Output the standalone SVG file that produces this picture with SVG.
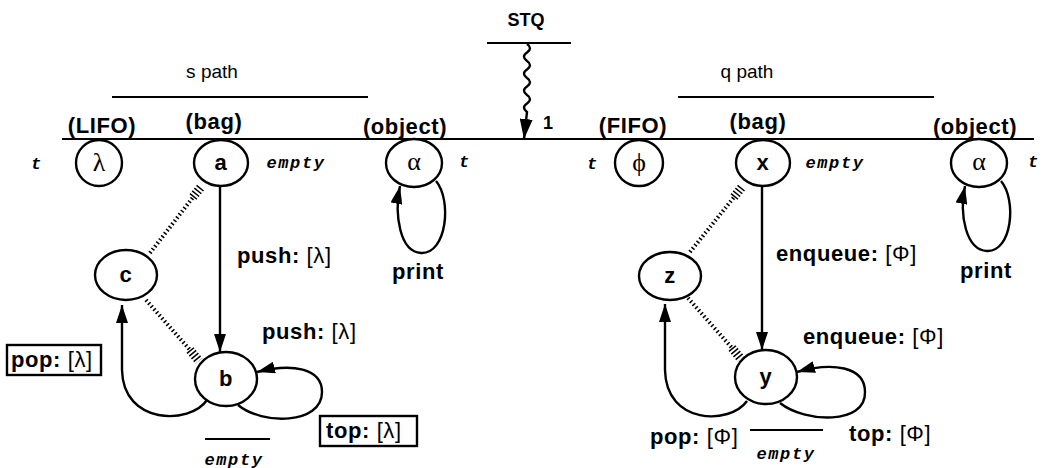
<svg xmlns="http://www.w3.org/2000/svg" width="1042" height="468" viewBox="0 0 1042 468">
<defs>
<style>
.lbl{font-family:"Liberation Sans",Arial,sans-serif;font-weight:bold;font-size:22px;letter-spacing:0.6px;fill:#000}
.sm{font-family:"Liberation Sans",Arial,sans-serif;font-weight:bold;font-size:18px;fill:#000}
.plain{font-family:"Liberation Sans",Arial,sans-serif;font-size:19px;fill:#000}
.mono{font-family:"Liberation Mono","Courier New",monospace;font-weight:bold;font-style:italic;font-size:17px;letter-spacing:1.6px;fill:#000}
.greek{font-family:"Liberation Serif","Times New Roman",serif;font-size:26px;fill:#000}
.node{fill:#fff;stroke:#000;stroke-width:2.4}
.ln{stroke:#000;stroke-width:2;fill:none}
.edge{stroke:#000;stroke-width:2.4;fill:none}
.hatch{stroke:#000;stroke-width:4;stroke-dasharray:1.5 2.5;fill:none}
.hatch2{stroke:#000;stroke-width:9;stroke-dasharray:1.5 2;fill:none}
.box{fill:#fff;stroke:#000;stroke-width:2.4}
.n{font-weight:normal}
</style>
<marker id="ahL" viewBox="0 0 18 12" refX="18" refY="6" markerWidth="18" markerHeight="12" markerUnits="userSpaceOnUse" orient="auto">
<path d="M0,0 L18,6 L0,12 z" fill="#000"/>
</marker>
<marker id="ahW" viewBox="0 0 20 13" refX="20" refY="6.5" markerWidth="20" markerHeight="13" markerUnits="userSpaceOnUse" orient="auto">
<path d="M0,0 L20,6.5 L0,13 z" fill="#000"/>
</marker>
</defs>
<g id="header">
<text class="plain" x="212" y="78" text-anchor="middle">s path</text>
<line class="ln" x1="112" y1="97" x2="368" y2="97"/>
<text class="sm" x="526" y="26" text-anchor="middle">STQ</text>
<line class="ln" x1="487" y1="43" x2="571" y2="43"/>
<text class="plain" x="747" y="78" text-anchor="middle">q path</text>
<line class="ln" x1="678" y1="97" x2="934" y2="97"/>
<line class="ln" x1="62" y1="139" x2="1034" y2="139"/>
<text class="lbl" x="102" y="133" text-anchor="middle">(LIFO)</text>
<text class="lbl" x="214" y="129" text-anchor="middle">(bag)</text>
<text class="lbl" x="405" y="134" text-anchor="middle">(object)</text>
<text class="lbl" x="633" y="133" text-anchor="middle">(FIFO)</text>
<text class="lbl" x="758" y="129" text-anchor="middle">(bag)</text>
<text class="lbl" x="975" y="134" text-anchor="middle">(object)</text>
<text class="sm" x="548" y="129" text-anchor="middle">1</text>
</g>
<g id="connectors">
<path class="edge" d="M527,44 q6,4 0,8.5 q-6,4 0,8.5 q6,4 0,8.5 q-6,4 0,8.5 q6,4 0,8.5 q-6,4 0,8.5 q6,4 0,8.5 q-6,4 0,8.5 L524,139" marker-end="url(#ahW)"/>
<line class="edge" x1="220" y1="186" x2="220" y2="352" marker-end="url(#ahL)"/>
<line class="edge" x1="762" y1="186" x2="762" y2="350" marker-end="url(#ahL)"/>
<path class="edge" d="M238,405 C262,425 322,425 322,392 C322,368 292,363 257,372" marker-end="url(#ahL)"/>
<path class="edge" d="M207,400 C190,425 123,425 122,370 L122,305" marker-end="url(#ahL)"/>
<path class="edge" d="M780,403 C805,423 866,425 865,392 C865,366 832,362 797,372" marker-end="url(#ahL)"/>
<path class="edge" d="M747,401 C730,425 666,425 665,370 L665,304" marker-end="url(#ahL)"/>
<path class="edge" d="M436,181 C452,200 447,254 421,253 C400,252 394,215 400,186" marker-end="url(#ahL)"/>
<path class="edge" d="M1001,181 C1017,200 1012,252 987,251 C966,250 959,215 965,186" marker-end="url(#ahL)"/>
<line class="hatch" x1="150" y1="253" x2="194" y2="196"/>
<line class="hatch2" x1="193" y1="197" x2="201" y2="187"/>
<line class="hatch" x1="146" y1="300" x2="191" y2="351"/>
<line class="hatch2" x1="190" y1="350" x2="199" y2="361"/>
<line class="hatch" x1="690" y1="252" x2="735" y2="196"/>
<line class="hatch2" x1="734" y1="197" x2="742" y2="187"/>
<line class="hatch" x1="688" y1="298" x2="733" y2="349"/>
<line class="hatch2" x1="732" y1="348" x2="741" y2="359"/>
</g>
<g id="node-lambda">
<ellipse class="node" cx="99" cy="163" rx="23" ry="23"/>
<text class="greek" x="99" y="171" text-anchor="middle">λ</text>
<text class="mono" x="37" y="169" text-anchor="middle">t</text>
</g>
<g id="node-a">
<ellipse class="node" cx="221" cy="163" rx="27" ry="23"/>
<text class="lbl" x="221" y="170" text-anchor="middle">a</text>
<text class="mono" x="296" y="168" text-anchor="middle">empty</text>
</g>
<g id="node-alpha1">
<ellipse class="node" cx="414" cy="163" rx="28" ry="24"/>
<text class="greek" x="414" y="170" text-anchor="middle">α</text>
<text class="mono" x="465" y="167" text-anchor="middle">t</text>
<text class="lbl" x="418" y="279" text-anchor="middle">print</text>
</g>
<g id="node-phi">
<ellipse class="node" cx="639" cy="163" rx="24" ry="23"/>
<text class="greek" x="639" y="171" text-anchor="middle">ϕ</text>
<text class="mono" x="593" y="169" text-anchor="middle">t</text>
</g>
<g id="node-x">
<ellipse class="node" cx="763" cy="163" rx="27" ry="23"/>
<text class="lbl" x="763" y="170" text-anchor="middle">x</text>
<text class="mono" x="835" y="168" text-anchor="middle">empty</text>
</g>
<g id="node-alpha2">
<ellipse class="node" cx="979" cy="163" rx="28" ry="24"/>
<text class="greek" x="979" y="170" text-anchor="middle">α</text>
<text class="mono" x="1034" y="167" text-anchor="middle">t</text>
<text class="lbl" x="986" y="278" text-anchor="middle">print</text>
</g>
<g id="node-c">
<ellipse class="node" cx="126" cy="275" rx="31" ry="25"/>
<text class="lbl" x="126" y="282" text-anchor="middle">c</text>
</g>
<g id="node-b">
<ellipse class="node" cx="226" cy="379" rx="31" ry="27"/>
<text class="lbl" x="226" y="386" text-anchor="middle">b</text>
</g>
<g id="node-z">
<ellipse class="node" cx="670" cy="276" rx="31" ry="24"/>
<text class="lbl" x="670" y="283" text-anchor="middle">z</text>
</g>
<g id="node-y">
<ellipse class="node" cx="766" cy="377" rx="31" ry="27"/>
<text class="lbl" x="766" y="384" text-anchor="middle">y</text>
</g>
<g id="labels">
<text class="lbl" x="237" y="263">push: <tspan class="n">[λ]</tspan></text>
<text class="lbl" x="262" y="339">push: <tspan class="n">[λ]</tspan></text>
<rect class="box" x="7" y="345" width="94" height="30"/>
<text class="lbl" x="11" y="367">pop: <tspan class="n">[λ]</tspan></text>
<rect class="box" x="320" y="416" width="97" height="30"/>
<text class="lbl" x="326" y="438">top: <tspan class="n">[λ]</tspan></text>
<line class="ln" x1="205" y1="439" x2="270" y2="439" stroke-width="1.5"/>
<text class="mono" x="234" y="465" text-anchor="middle">empty</text>
<text class="lbl" x="776" y="261">enqueue: <tspan class="n">[Φ]</tspan></text>
<text class="lbl" x="803" y="344">enqueue: <tspan class="n">[Φ]</tspan></text>
<text class="lbl" x="849" y="441">top: <tspan class="n">[Φ]</tspan></text>
<text class="lbl" x="650" y="444">pop: <tspan class="n">[Φ]</tspan></text>
<line class="ln" x1="750" y1="430" x2="823" y2="430" stroke-width="1.5"/>
<text class="mono" x="786" y="459" text-anchor="middle">empty</text>
</g>
</svg>
